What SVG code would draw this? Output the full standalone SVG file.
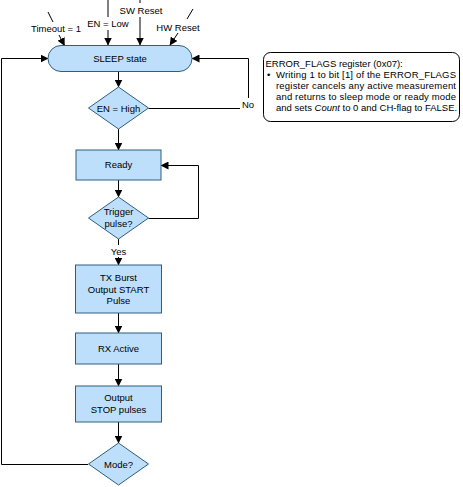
<svg xmlns="http://www.w3.org/2000/svg" width="463" height="487" viewBox="0 0 463 487">
<defs>
<marker id="arr" markerUnits="userSpaceOnUse" markerWidth="8" markerHeight="8" refX="7.5" refY="4" orient="auto">
<path d="M0,0 L8,4 L0,8 z" fill="#000"/>
</marker>
<style>
.n{fill:#bddffb;stroke:#2f5f7f;stroke-width:1}
.t{font-family:"Liberation Sans",Arial,sans-serif;font-size:9.5px;fill:#000;text-anchor:middle}
.nt{font-family:"Liberation Sans",Arial,sans-serif;font-size:9.5px;fill:#000}
.c{fill:none;stroke:#000;stroke-width:1}
.a{marker-end:url(#arr)}
</style>
</defs>
<rect width="463" height="487" fill="#fff"/>
<g id="connectors">
<line class="c" x1="108" y1="0" x2="108" y2="17"/>
<line class="c a" x1="108" y1="30" x2="108" y2="45"/>
<line class="c" x1="140" y1="0" x2="140" y2="3"/>
<line class="c a" x1="140" y1="17" x2="140" y2="45"/>
<line class="c" x1="48" y1="12" x2="53" y2="22"/>
<line class="c a" x1="59" y1="35" x2="64.5" y2="45.5"/>
<line class="c" x1="193" y1="9" x2="187" y2="19"/>
<line class="c a" x1="178" y1="33" x2="170" y2="45"/>
<line class="c a" x1="118.5" y1="71" x2="118.5" y2="87"/>
<polyline class="c" points="148.5,108.5 240,108.5"/>
<polyline class="c a" points="248.5,98 248.5,58.5 192,58.5"/>
<line class="c a" x1="118.5" y1="129" x2="118.5" y2="150"/>
<line class="c a" x1="118.5" y1="180" x2="118.5" y2="197"/>
<polyline class="c a" points="148.5,218.5 198.5,218.5 198.5,165.5 161,165.5"/>
<line class="c" x1="118.5" y1="239" x2="118.5" y2="245"/>
<line class="c a" x1="118.5" y1="257" x2="118.5" y2="265"/>
<line class="c a" x1="118.5" y1="313" x2="118.5" y2="333"/>
<line class="c a" x1="118.5" y1="364" x2="118.5" y2="386"/>
<line class="c a" x1="118.5" y1="422" x2="118.5" y2="443"/>
<polyline class="c a" points="88,464.5 1.5,464.5 1.5,58.5 48,58.5"/>
<text class="t" x="56" y="31.5">Timeout = 1</text>
<text class="t" x="108" y="27">EN = Low</text>
<text class="t" x="141" y="13.5">SW Reset</text>
<text class="t" x="178" y="30.5">HW Reset</text>
<text class="t" x="248" y="107.5">No</text>
<text class="t" x="118.5" y="254.5">Yes</text>
</g>
<g id="sleep">
<rect class="n" x="48" y="45.5" width="144" height="26" rx="13"/>
<text class="t" x="120" y="62">SLEEP state</text>
</g>
<g id="en-high">
<polygon class="n" points="118.5,87 148.5,108 118.5,129 88.5,108"/>
<text class="t" x="118.5" y="111.5">EN = High</text>
</g>
<g id="ready">
<rect class="n" x="76" y="150" width="85" height="30"/>
<text class="t" x="118.5" y="168">Ready</text>
</g>
<g id="trigger">
<polygon class="n" points="118.5,197 148.5,218 118.5,239 88.5,218"/>
<text class="t" x="118.5" y="215">Trigger</text>
<text class="t" x="118.5" y="227">pulse?</text>
</g>
<g id="tx-burst">
<rect class="n" x="75.5" y="265" width="86" height="48"/>
<text class="t" x="118.5" y="281">TX Burst</text>
<text class="t" x="118.5" y="292.5">Output START</text>
<text class="t" x="118.5" y="304">Pulse</text>
</g>
<g id="rx-active">
<rect class="n" x="75.5" y="333" width="86" height="31"/>
<text class="t" x="118.5" y="352">RX Active</text>
</g>
<g id="output-stop">
<rect class="n" x="75.5" y="386" width="86" height="36"/>
<text class="t" x="118.5" y="401">Output</text>
<text class="t" x="118.5" y="412.5">STOP pulses</text>
</g>
<g id="mode">
<polygon class="n" points="118.5,443 148.5,464 118.5,485 88.5,464"/>
<text class="t" x="118.5" y="467.5">Mode?</text>
</g>
<g id="note">
<rect x="263.5" y="52.5" width="196" height="69" rx="7" fill="#fff" stroke="#000" stroke-width="1"/>
<text class="nt" x="265.5" y="67">ERROR_FLAGS register (0x07):</text>
<text class="nt" x="267" y="78">•</text>
<text class="nt" x="276" y="78" textLength="180" lengthAdjust="spacing">Writing 1 to bit [1] of the ERROR_FLAGS</text>
<text class="nt" x="276" y="89" textLength="180" lengthAdjust="spacing">register cancels any active measurement</text>
<text class="nt" x="276" y="100" textLength="180" lengthAdjust="spacing">and returns to sleep mode or ready mode</text>
<text class="nt" x="276" y="111">and sets <tspan font-style="italic">Count</tspan> to 0 and CH-flag to FALSE.</text>
</g>
</svg>
